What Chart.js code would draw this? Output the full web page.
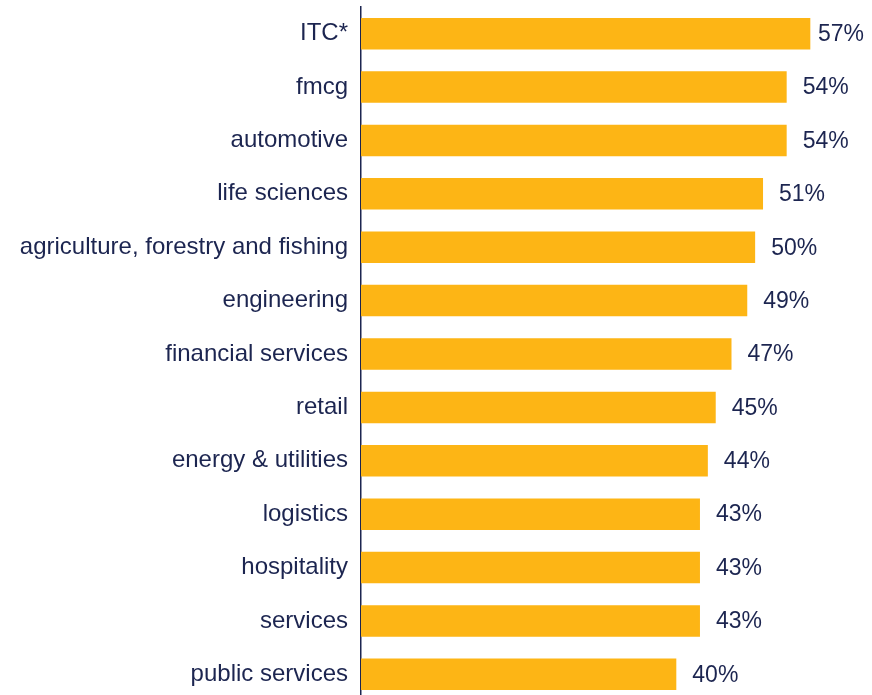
<!DOCTYPE html>
<html>
<head>
<meta charset="utf-8">
<script src="https://cdn.jsdelivr.net/npm/chart.js@4"></script>
<style>
  html, body { margin: 0; padding: 0; background: #fff; overflow: hidden; }
  #wrap { width: 872px; height: 701px; }
</style>
</head>
<body>
<div id="wrap"><canvas id="chart"></canvas></div>
<script>
const sectors = ['ITC*', 'fmcg', 'automotive', 'life sciences', 'agriculture, forestry and fishing',
    'engineering', 'financial services', 'retail', 'energy & utilities', 'logistics',
    'hospitality', 'services', 'public services'];
const shares = [57, 54, 54, 51, 50, 49, 47, 45, 44, 43, 43, 43, 40];

const navy = '#1c2550';
const gold = '#fdb515';

// value labels at the end of each bar
const valueLabels = {
    id: 'valueLabels',
    afterDatasetsDraw(chart) {
        const ctx = chart.ctx;
        const meta = chart.getDatasetMeta(0);
        ctx.save();
        ctx.font = '23px "Liberation Sans", Arial, sans-serif';
        ctx.fillStyle = navy;
        ctx.textBaseline = 'middle';
        ctx.textAlign = 'left';
        meta.data.forEach((bar, i) => {
            const txt = shares[i] + '%';
            const w = ctx.measureText(txt).width;
            let x = bar.x + 16;
            if (x + w > chart.width - 8) x = chart.width - 8 - w;
            ctx.fillText(txt, x, bar.y + 1);
        });
        ctx.restore();
    }
};

new Chart(document.getElementById('chart'), {
    type: 'bar',
    data: {
        labels: sectors,
        datasets: [{
            data: shares,
            backgroundColor: gold,
            borderWidth: 0,
            barPercentage: 0.59,
            categoryPercentage: 1
        }]
    },
    options: {
        indexAxis: 'y',
        responsive: true,
        maintainAspectRatio: false,
        animation: false,
        layout: { padding: { top: 7, bottom: 0, left: 0, right: 6.5 } },
        plugins: {
            legend: { display: false },
            tooltip: { enabled: false }
        },
        scales: {
            x: {
                display: false,
                min: 0,
                max: 64
            },
            y: {
                afterFit(scale) {
                    scale.width = 361;
                    scale.paddingTop = 0;
                    scale.paddingBottom = 0;
                },
                grid: { display: false, drawTicks: false },
                border: { display: true, color: navy, width: 1.5 },
                ticks: {
                    padding: 13,
                    color: navy,
                    font: { family: '"Liberation Sans", Arial, sans-serif', size: 24 }
                }
            }
        }
    },
    plugins: [valueLabels]
});
</script>
</body>
</html>
